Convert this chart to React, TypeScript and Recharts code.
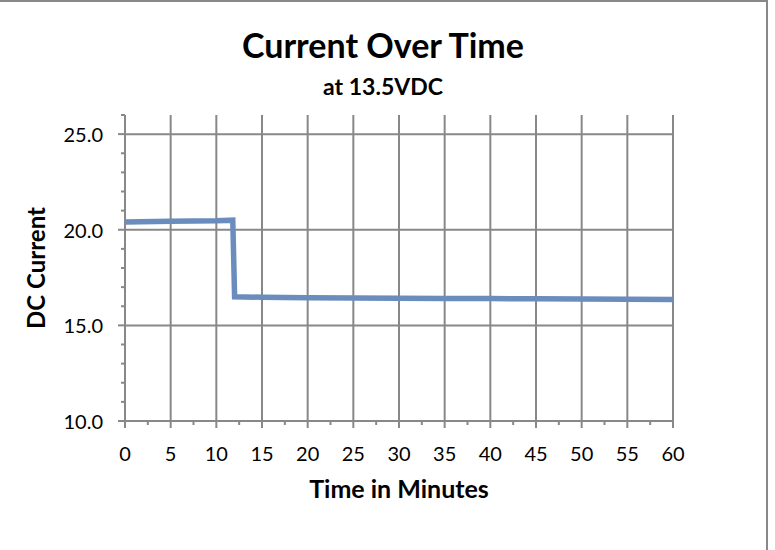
import { LineChart, Line, XAxis, YAxis, CartesianGrid } from 'recharts'

// minutes vs. DC current (A)
const minutes = [0, 5, 10, 11.8, 12, 15, 20, 25, 30, 35, 40, 45, 50, 55, 60]
const current = [20.4, 20.44, 20.47, 20.5, 16.5, 16.47, 16.45, 16.43, 16.42, 16.41, 16.4, 16.39, 16.38, 16.36, 16.35]

const xTicks = [0, 2.5, 5, 7.5, 10, 12.5, 15, 17.5, 20, 22.5, 25, 27.5, 30, 32.5, 35, 37.5, 40, 42.5, 45, 47.5, 50, 52.5, 55, 57.5, 60]
const xMajorTicks = [0, 5, 10, 15, 20, 25, 30, 35, 40, 45, 50, 55, 60]
const yTicks = [10, 11, 12, 13, 14, 15, 16, 17, 18, 19, 20, 21, 22, 23, 24, 25, 26]
const yMajorTicks = [10, 15, 20, 25]

const data = minutes.map((t, i) => ({ t, amps: current[i] }))

const GRID = '#888888'
const FONT = 'Lato, "Open Sans", sans-serif'

function XTick(props: any) {
  const { x, y, payload } = props
  const major = xMajorTicks.includes(payload.value)
  return (
    <g>
      <line x1={x} x2={x} y1={y} y2={y + (major ? 7 : 4)} stroke={GRID} strokeWidth={2} />
      {major && (
        <text x={x} y={y + 32} textAnchor="middle" dominantBaseline="central" fontSize={20} fontFamily={FONT} fill="#000">
          {payload.value}
        </text>
      )}
    </g>
  )
}

function YTick(props: any) {
  const { x, y, payload } = props
  const major = yMajorTicks.includes(payload.value)
  return (
    <g>
      <line x1={x - (major ? 7 : 4)} x2={x} y1={y} y2={y} stroke={GRID} strokeWidth={2} />
      {major && (
        <text x={x - 22} y={y} textAnchor="end" dominantBaseline="central" fontSize={20} fontFamily={FONT} fill="#000">
          {payload.value.toFixed(1)}
        </text>
      )}
    </g>
  )
}

export default function App() {
  return (
    <div style={{ position: 'relative', width: 775, height: 550, background: '#fff' }}>
      <style>{'body{margin:0}'}</style>
      <LineChart width={775} height={550} data={data} margin={{ top: 115, right: 102, left: 0, bottom: 0 }}>
        <CartesianGrid
          horizontalValues={yMajorTicks}
          verticalValues={xMajorTicks}
          stroke={GRID}
          strokeWidth={2}
        />
        <XAxis
          type="number"
          dataKey="t"
          domain={[0, 60]}
          ticks={xTicks}
          interval={0}
          height={129}
          tickSize={0}
          tickMargin={0}
          tickLine={false}
          tick={<XTick />}
          axisLine={{ stroke: GRID, strokeWidth: 2 }}
        />
        <YAxis
          type="number"
          domain={[10, 26]}
          ticks={yTicks}
          interval={0}
          width={125}
          tickSize={0}
          tickMargin={0}
          tickLine={false}
          tick={<YTick />}
          axisLine={{ stroke: GRID, strokeWidth: 2 }}
        />
        <Line
          type="linear"
          dataKey="amps"
          stroke="#6b8dbd"
          strokeWidth={5.5}
          dot={false}
          isAnimationActive={false}
        />
      </LineChart>
      <svg
        width={775}
        height={550}
        style={{ position: 'absolute', left: 0, top: 0, pointerEvents: 'none' }}
      >
        <text x={383} y={58} textAnchor="middle" fontSize={34} fontWeight="bold" fontFamily={FONT} fill="#000">
          Current Over Time
        </text>
        <text x={383} y={95} textAnchor="middle" fontSize={23} fontWeight="bold" fontFamily={FONT} fill="#000">
          at 13.5VDC
        </text>
        <text x={45} y={268} transform="rotate(-90 45 268)" textAnchor="middle" fontSize={24} fontWeight="bold" fontFamily={FONT} fill="#000">
          DC Current
        </text>
        <text x={399} y={498} textAnchor="middle" fontSize={25} fontWeight="bold" fontFamily={FONT} fill="#000">
          Time in Minutes
        </text>
      </svg>
      <div
        style={{
          position: 'absolute',
          left: 0,
          top: 0,
          width: 768,
          height: 550,
          boxSizing: 'border-box',
          borderTop: `2px solid ${GRID}`,
          borderRight: `2px solid ${GRID}`,
          pointerEvents: 'none',
        }}
      />
    </div>
  )
}
